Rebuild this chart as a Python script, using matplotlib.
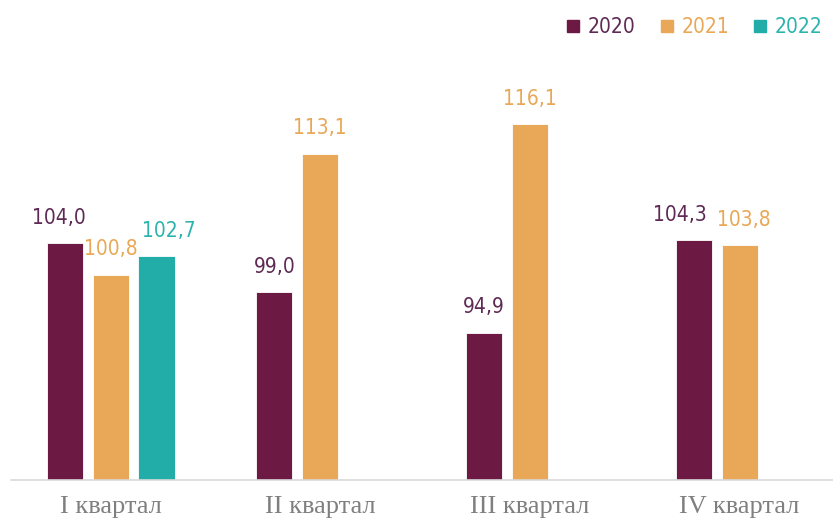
import matplotlib
matplotlib.use("Agg")
import matplotlib.pyplot as plt
from matplotlib import font_manager as fm
from matplotlib.lines import Line2D
import numpy as np

# Данные
kvartaly = ["I квартал", "II квартал", "III квартал", "IV квартал"]
gody = ["2020", "2021", "2022"]
v2020 = [104.0, 99.0, 94.9, 104.3]
v2021 = [100.8, 113.1, 116.1, 103.8]
v2022 = [102.7, np.nan, np.nan, np.nan]

cveta = ["#6C1943", "#E8A857", "#22ADA9"]
cveta_podpisej = ["#5E2A55", "#E8A857", "#2DB3AE"]

# сдвиг подписей по горизонтали (в пунктах), чтобы не налезали
sdvig = [[-4, 0, 0, -10], [0, 0, 0, 3], [9, 0, 0, 0]]

# ищем узкий шрифт, если он есть
uzkie = [f for f in fm.fontManager.ttflist
         if f.stretch in ("condensed", "semi-condensed", "extra-condensed", "ultra-condensed")
         or "Narrow" in f.name or "Condensed" in f.name]
if uzkie:
    f0 = uzkie[0]
    shrift = fm.FontProperties(family=f0.name, stretch=f0.stretch, size=15)
else:
    shrift = fm.FontProperties(family="DejaVu Sans", size=13)

fig = plt.figure(figsize=(8.33, 5.25), dpi=100)
ax = fig.add_axes([11 / 833, 45.5 / 525, 844 / 833, 413.6 / 525])

x = np.arange(len(kvartaly))
shirina = 0.172
shag = 0.219

for i, (vals, c, cp) in enumerate(zip([v2020, v2021, v2022], cveta, cveta_podpisej)):
    pos = x + (i - 1) * shag
    ax.bar(pos, vals, width=shirina, color=c, edgecolor="white", linewidth=0.6, zorder=2)
    for j, (p, v) in enumerate(zip(pos, vals)):
        if np.isnan(v):
            continue
        ax.annotate(f"{v:.1f}".replace(".", ","), (p, v), xytext=(sdvig[i][j], 11),
                    textcoords="offset points", ha="center", va="bottom",
                    fontproperties=shrift, color=cp)

ax.set_ylim(80, 122)
ax.set_xlim(-0.475, 3.55)
ax.set_yticks([])
ax.set_xticks(x)
ax.set_xticklabels(kvartaly, family="Liberation Serif", fontsize=19, color="#7F7F7F")
ax.tick_params(axis="x", length=0, pad=12)
for s in ["top", "right", "left"]:
    ax.spines[s].set_visible(False)
ax.spines["bottom"].set_color("#D9D9D9")
ax.spines["bottom"].set_linewidth(1.2)

ruchki = [Line2D([], [], marker="s", linestyle="none", markersize=9,
                 markerfacecolor=c, markeredgecolor=c) for c in cveta]
fig.legend(ruchki, gody, loc="center right", bbox_to_anchor=(1.0, 1 - 27 / 525),
           ncol=3, frameon=False, handletextpad=0.1, columnspacing=0.9,
           borderaxespad=0.1, handlelength=1.2,
           prop=shrift, labelcolor=cveta_podpisej)

plt.savefig("out.png", dpi=100)
